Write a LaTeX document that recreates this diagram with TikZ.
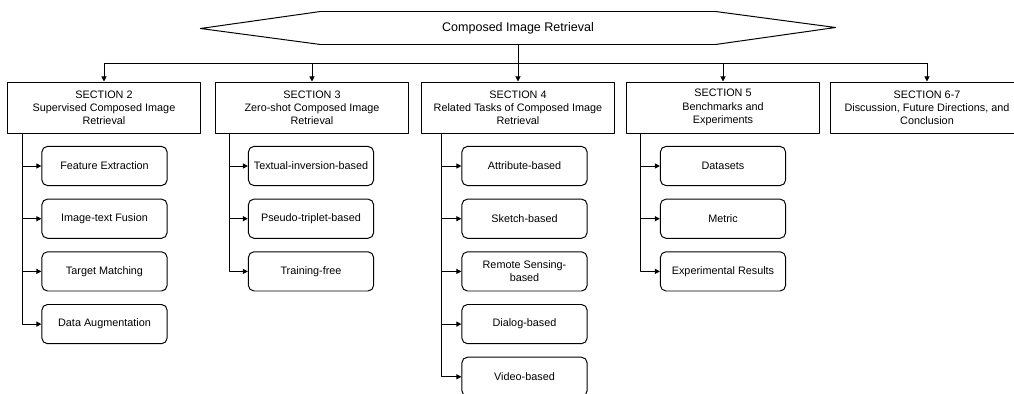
\documentclass[tikz,border=0pt]{standalone}
\usepackage{fontspec}
\setmainfont{Liberation Sans}
\usetikzlibrary{arrows.meta}

\tikzset{
  secbox/.style={draw,minimum width=4.8cm,minimum height=1.275cm,align=center,inner sep=1pt,
    font=\fontsize{7.7}{9.4}\selectfont},
  subbox/.style={draw,rounded corners=4pt,minimum width=3.13cm,minimum height=0.98cm,align=center,inner sep=1pt,
    font=\fontsize{7.7}{9.4}\selectfont},
}

\begin{document}
\begin{tikzpicture}[x=0.025cm,y=-0.025cm,line width=0.7pt,line join=round,>={Triangle[length=3.6pt,width=3.6pt]}]
\useasboundingbox (0,0) rectangle (1014,394);
% root
\node[minimum width=9.85cm,minimum height=0.8cm,inner sep=0pt,font=\fontsize{8.9}{10}\selectfont] (root) at (518,28) {Composed Image Retrieval};
\draw (root.north west) -- (root.north east) -- ++(120,16) -- (root.south east)
  -- (root.south west) -- ++(-120,-16) -- cycle;
% sections
\node[secbox] (s2) at (104,107.5) {SECTION 2\\Supervised Composed Image\\Retrieval};
\node[secbox] (s3) at (312,107.5) {SECTION 3\\Zero-shot Composed Image\\Retrieval};
\node[secbox] (s4) at (518,107.5) {SECTION 4\\Related Tasks of Composed Image\\Retrieval};
\node[secbox] (s5) at (723,107.5) {SECTION 5\\Benchmarks and\\Experiments};
\node[secbox] (s67) at (927,107.5) {SECTION 6-7\\Discussion, Future Directions, and\\Conclusion};
\coordinate (bus) at (518,63);
\draw (root.south) -- (bus);
\draw (s2.north |- bus) -- (s67.north |- bus);
\foreach \s in {s2,s3,s4,s5,s67}
\draw[->] (\s.north |- bus) -- (\s.north);
% subsections
\foreach \t [count=\i] in {Feature Extraction,Image-text Fusion,Target Matching,Data Augmentation}
\node[subbox] (sup\i) at (104.5,{113.3+52.7*\i}) {\t};
\foreach \t [count=\i] in {Textual-inversion-based,Pseudo-triplet-based,Training-free}
\node[subbox] (zs\i) at (311,{113.3+52.7*\i}) {\t};
\foreach \t [count=\i] in {Attribute-based,Sketch-based,{Remote Sensing-\\based},Dialog-based,Video-based}
\node[subbox] (rel\i) at (524.5,{113.3+52.7*\i}) {\t};
\foreach \t [count=\i] in {Datasets,Metric,Experimental Results}
\node[subbox] (bm\i) at (723,{113.3+52.7*\i}) {\t};
% trunks
\coordinate (t2) at (22,133);
\coordinate (t3) at (229,133);
\coordinate (t4) at (441,133);
\coordinate (t5) at (640,133);
\draw[->] (t2) |- (sup4.west);
\foreach \i in {1,2,3}
\draw[->] (t2 |- sup\i.west) -- (sup\i.west);
\draw[->] (t3) |- (zs3.west);
\foreach \i in {1,2}
\draw[->] (t3 |- zs\i.west) -- (zs\i.west);
\draw[->] (t4) |- (rel5.west);
\foreach \i in {1,2,3,4}
\draw[->] (t4 |- rel\i.west) -- (rel\i.west);
\draw[->] (t5) |- (bm3.west);
\foreach \i in {1,2}
\draw[->] (t5 |- bm\i.west) -- (bm\i.west);
\end{tikzpicture}
\end{document}
